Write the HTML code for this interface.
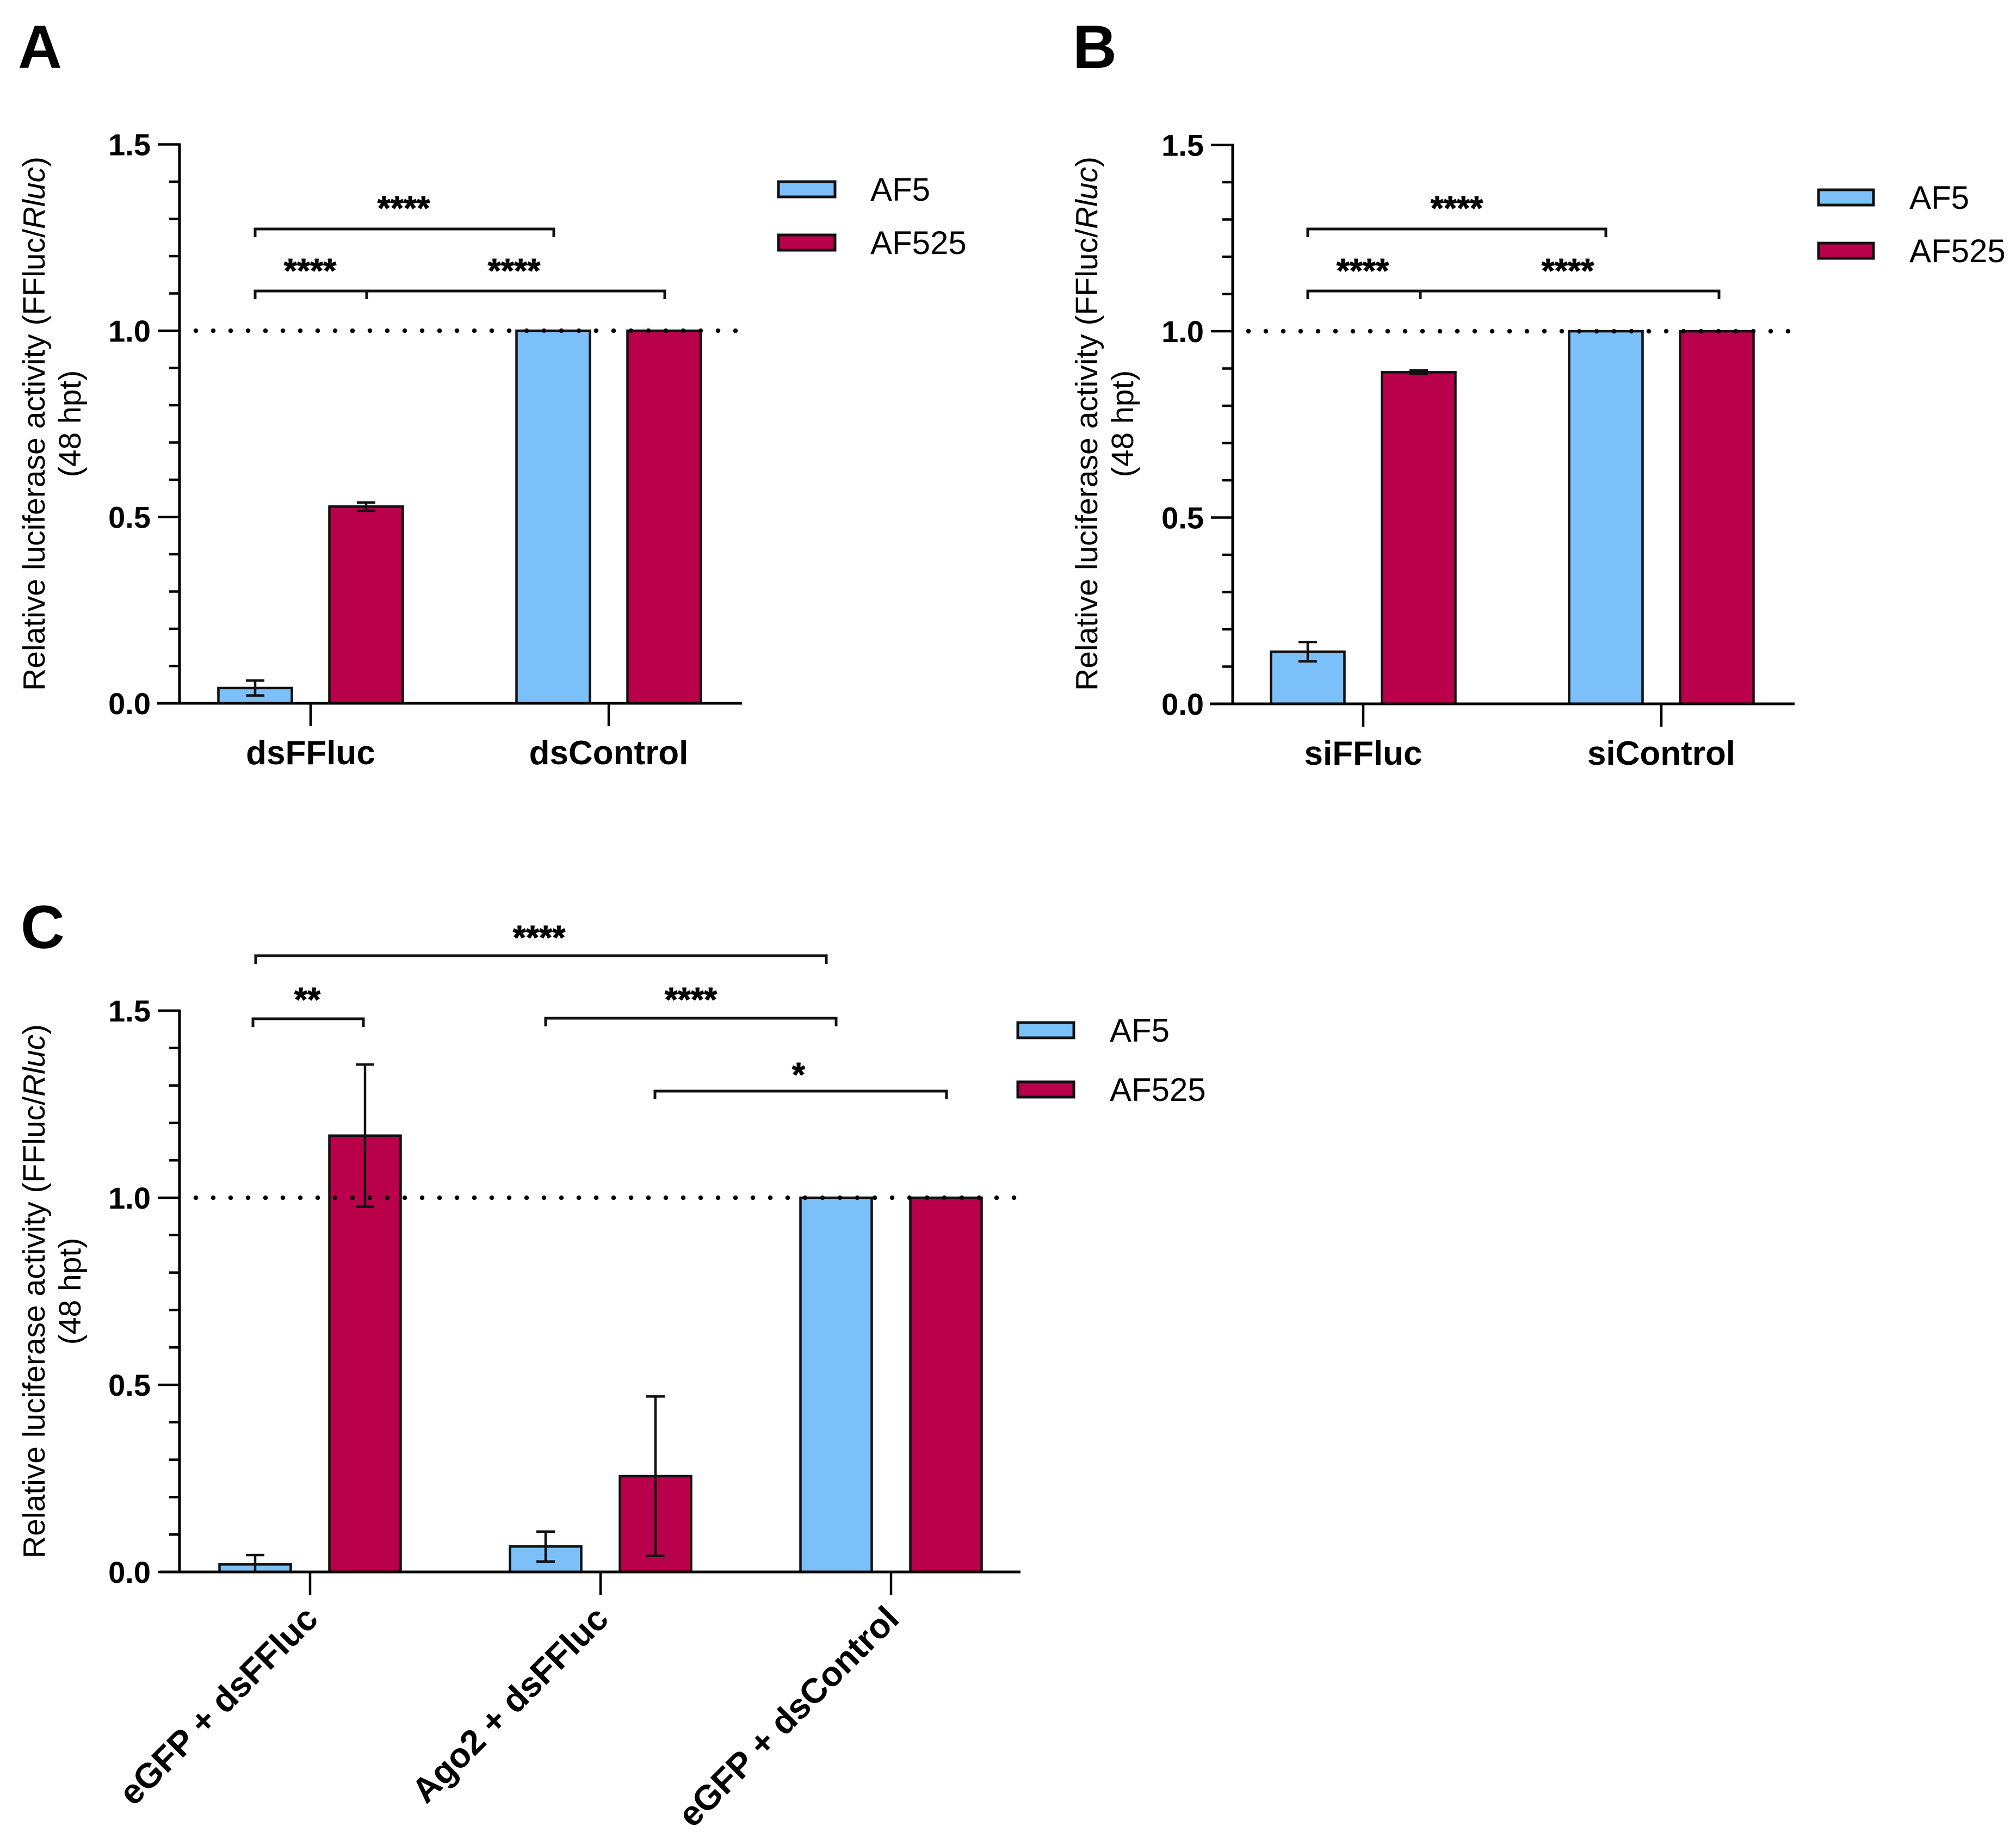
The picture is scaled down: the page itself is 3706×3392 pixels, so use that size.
<!DOCTYPE html>
<html><head><meta charset="utf-8">
<style>
html,body{margin:0;padding:0;background:#fff;}
svg{display:block;font-family:"Liberation Sans",Arial,sans-serif;}
</style></head>
<body>
<svg id="fig" width="3706" height="3392" viewBox="0 0 3706 3392" xmlns="http://www.w3.org/2000/svg"></svg>
<script>
// ---- Data ----
const seriesNames = ["AF5", "AF525"];
const catsA = ["dsFFluc", "dsControl"];
const af5A = [0.041, 1.0];
const af525A = [0.528, 1.0];
const errAf5A = [0.02, 0];
const errAf525A = [0.011, 0];
const catsB = ["siFFluc", "siControl"];
const af5B = [0.14, 1.0];
const af525B = [0.89, 1.0];
const errAf5B = [0.026, 0];
const errAf525B = [0.005, 0];
const catsC = ["eGFP + dsFFluc", "Ago2 + dsFFluc", "eGFP + dsControl"];
const af5C = [0.02, 0.068, 1.0];
const af525C = [1.166, 0.256, 1.0];
const errAf5C = [0.025, 0.04, 0];
const errAf525C = [0.19, 0.213, 0];
const yTicks = [0.0, 0.5, 1.0, 1.5];
const yTickLabels = ["0.0", "0.5", "1.0", "1.5"];
const refValue = 1.0;

const NS = "http://www.w3.org/2000/svg";
const svg = document.getElementById("fig");
const BLUE = "#7cc0fa", RED = "#bb004b";

function mk(tag, attrs, parent) {
  const e = document.createElementNS(NS, tag);
  for (const k in attrs) e.setAttribute(k, attrs[k]);
  (parent || svg).appendChild(e);
  return e;
}

function panel(cfg) {
  const g = mk("g", {});
  
  
  const ax = cfg.axisX, y0 = cfg.y0, unit = cfg.unit;
  const yS = v => y0 - v * unit;
  const xC = i => cfg.firstCenter + i * cfg.spacing;

  const L = mk("text", {x: cfg.letterX, y: cfg.letterY, "font-size": 112, "font-weight": "bold"}, g);
  L.textContent = cfg.letter;
  
  

  const t = mk("text", {transform: `translate(${cfg.titleX},${cfg.titleY}) rotate(-90)`, "text-anchor": "middle", "font-size": 57}, g);
  
  
  const s1 = mk("tspan", {x: 0, y: 0}, t);
  s1.appendChild(document.createTextNode("Relative luciferase activity (FFluc/"));
  const si = mk("tspan", {"font-style": "italic"}, s1); si.textContent = "Rluc";
  s1.appendChild(document.createTextNode(")"));
  const s2 = mk("tspan", {x: 0, y: 66}, t); s2.textContent = "(48 hpt)";

  for (let v = 0.1; v < 1.5; v += 0.1) {
    const r = Math.round(v * 10) / 10;
    if (Math.abs(r - 0.5) < 1e-6 || Math.abs(r - 1.0) < 1e-6) continue;
    const m = mk("line", {x1: ax - 19, x2: ax, y1: yS(r), y2: yS(r), stroke: "#000", "stroke-width": 4.5}, g);
    
    
  }
  yTicks.forEach((v, i) => {
    const tk = mk("line", {x1: ax - 40, x2: ax, y1: yS(v), y2: yS(v), stroke: "#000", "stroke-width": 4.5}, g);
    
    
    const tl = mk("text", {x: ax - 53, y: yS(v) + 20, "text-anchor": "end", "font-size": 56, "font-weight": "bold"}, g);
    tl.textContent = yTickLabels[i];
    
    
  });

  const bw = cfg.barW;
  cfg.cats.forEach((c, i) => {
    [[cfg.af5, cfg.eaf5, BLUE, -cfg.off, "af5"], [cfg.af525, cfg.eaf525, RED, cfg.off, "af525"]].forEach(([vals, errs, col, off, sn]) => {
      const cx = xC(i) + off;
      const b = mk("rect", {x: cx - bw / 2, y: yS(vals[i]), width: bw, height: yS(0) - yS(vals[i]), fill: col, stroke: "#111", "stroke-width": 4.5}, g);
      
      
      if (errs[i] > 0) {
        const eg = mk("g", {stroke: "#111", "stroke-width": 4.5, fill: "none"}, g);
        
        
        mk("line", {x1: cx, x2: cx, y1: yS(vals[i] + errs[i]), y2: yS(Math.max(0, vals[i] - errs[i]))}, eg);
        mk("line", {x1: cx - 17, x2: cx + 17, y1: yS(vals[i] + errs[i]), y2: yS(vals[i] + errs[i])}, eg);
        mk("line", {x1: cx - 17, x2: cx + 17, y1: yS(Math.max(0, vals[i] - errs[i])), y2: yS(Math.max(0, vals[i] - errs[i]))}, eg);
      }
    });
  });

  const d = mk("line", {x1: cfg.dotX1, x2: cfg.dotX2, y1: yS(refValue), y2: yS(refValue), stroke: "#000", "stroke-width": 8.5, "stroke-linecap": "round", "stroke-dasharray": "0 32"}, g);
  
  

  const ya = mk("line", {x1: ax, x2: ax, y1: yS(1.5) - 2, y2: yS(0) + 2, stroke: "#000", "stroke-width": 5}, g);
  
  
  const xa = mk("line", {x1: cfg.xAxisX1, x2: cfg.xAxisX2, y1: yS(0), y2: yS(0), stroke: "#000", "stroke-width": 5}, g);
  
  

  cfg.cats.forEach((c, i) => {
    const tk = mk("line", {x1: xC(i), x2: xC(i), y1: yS(0), y2: yS(0) + 42, stroke: "#000", "stroke-width": 4.5}, g);
    
    
    let lab;
    if (cfg.rotate) {
      lab = mk("text", {transform: `translate(${xC(i) + 18},${yS(0) + 90}) rotate(-45)`, "text-anchor": "end", "font-size": 64, "font-weight": "bold"}, g);
    } else {
      lab = mk("text", {x: xC(i), y: yS(0) + 112, "text-anchor": "middle", "font-size": 62, "font-weight": "bold"}, g);
    }
    lab.textContent = c;
    
    
  });

  cfg.brackets.forEach(br => {
    const bg = mk("g", {}, g);
    
    
    let dpath = `M${br.x1},${br.y + 15} V${br.y} H${br.x2} V${br.y + 15}`;
    if (br.mid) dpath += ` M${br.mid},${br.y} V${br.y + 15}`;
    mk("path", {d: dpath, stroke: "#111", "stroke-width": 5, fill: "none"}, bg);
    const st = mk("text", {x: br.sx, y: br.sy + 34, "text-anchor": "middle", "font-size": 62, "font-weight": "bold", stroke: "#000", "stroke-width": 1}, bg);
    st.textContent = br.text;
  });

  seriesNames.forEach((n, i) => {
    const lg = mk("g", {}, g);
    
    
    const cy = cfg.legY[i];
    mk("rect", {x: cfg.legX, y: cy - 14, width: cfg.legW, height: 28, fill: i === 0 ? BLUE : RED, stroke: "#111", "stroke-width": 5}, lg);
    const lt = mk("text", {x: cfg.legTX, y: cy + 21, "font-size": 60}, lg);
    lt.textContent = n;
  });
}

panel({name: "panel-a", letter: "A", letterX: 33, letterY: 125, titleX: 82, titleY: 779,
  axisX: 330, y0: 1293, unit: 685, cats: catsA, af5: af5A, af525: af525A, eaf5: errAf5A, eaf525: errAf525A,
  firstCenter: 571, spacing: 548, off: 102, barW: 135, dotX1: 360, dotX2: 1360, xAxisX1: 289, xAxisX2: 1364,
  brackets: [
    {x1: 469, x2: 1018, y: 421, sx: 742, sy: 370, text: "****"},
    {x1: 469, x2: 1222, mid: 674, y: 535, sx: 570, sy: 485, text: "****"},
    {x1: 0, x2: 0, y: -100, sx: 945, sy: 485, text: "****"}
  ],
  legX: 1431, legW: 104, legY: [348, 446], legTX: 1600});

panel({name: "panel-b", letter: "B", letterX: 1972, letterY: 125, titleX: 2017, titleY: 779,
  axisX: 2266, y0: 1294, unit: 685, cats: catsB, af5: af5B, af525: af525B, eaf5: errAf5B, eaf525: errAf525B,
  firstCenter: 2506, spacing: 548, off: 102, barW: 135, dotX1: 2295, dotX2: 3295, xAxisX1: 2224, xAxisX2: 3299,
  brackets: [
    {x1: 2404, x2: 2952, y: 421, sx: 2678, sy: 370, text: "****"},
    {x1: 2404, x2: 3160, mid: 2611, y: 535, sx: 2505, sy: 485, text: "****"},
    {x1: 0, x2: 0, y: -100, sx: 2882, sy: 485, text: "****"}
  ],
  legX: 3343, legW: 101, legY: [363, 461], legTX: 3510});

panel({name: "panel-c", letter: "C", letterX: 38, letterY: 1743, titleX: 82, titleY: 2374,
  axisX: 330, y0: 2890, unit: 688, cats: catsC, af5: af5C, af525: af525C, eaf5: errAf5C, eaf525: errAf525C,
  firstCenter: 570, spacing: 534, off: 101, barW: 131, dotX1: 360, dotX2: 1873, xAxisX1: 294, xAxisX2: 1876,
  rotate: true,
  brackets: [
    {x1: 470, x2: 1519, y: 1757, sx: 991, sy: 1711, text: "****"},
    {x1: 465, x2: 668, y: 1873, sx: 565, sy: 1825, text: "**"},
    {x1: 1003, x2: 1537, y: 1872, sx: 1270, sy: 1825, text: "****"},
    {x1: 1204, x2: 1740, y: 2006, sx: 1468, sy: 1963, text: "*"}
  ],
  legX: 1871, legW: 103, legY: [1894, 2003], legTX: 2040});
</script>
</body></html>
